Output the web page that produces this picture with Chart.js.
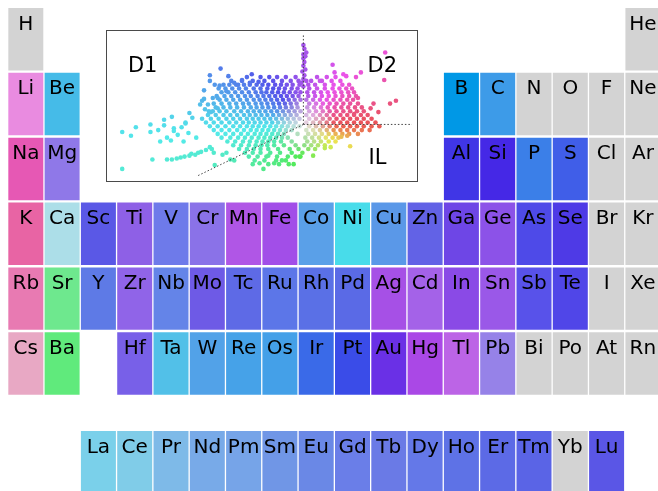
<!DOCTYPE html>
<html>
<head>
<meta charset="utf-8">
<script src="https://cdn.jsdelivr.net/npm/chart.js@4.4.0/dist/chart.umd.min.js"></script>
<style>
  html, body { margin: 0; padding: 0; background: #fff; overflow: hidden; }
  #wrap { position: relative; width: 658px; height: 491px; }
  #table { position: absolute; left: 0; top: 0; }
  #insetBox { position: absolute; left: 106px; top: 30px; width: 312px; height: 152px;
              box-sizing: border-box; border: 1.5px solid #4a4a4a; background: #fff; }
  #inset { display: block; }
</style>
</head>
<body>
<div id="wrap">
  <canvas id="table" width="658" height="491"></canvas>
  <div id="insetBox"><canvas id="inset" width="309" height="149"></canvas></div>
</div>
<script>
// element symbols, period (8 = separate lanthanide row) and group
const symbols = ['H','He',
  'Li','Be','B','C','N','O','F','Ne',
  'Na','Mg','Al','Si','P','S','Cl','Ar',
  'K','Ca','Sc','Ti','V','Cr','Mn','Fe','Co','Ni','Cu','Zn','Ga','Ge','As','Se','Br','Kr',
  'Rb','Sr','Y','Zr','Nb','Mo','Tc','Ru','Rh','Pd','Ag','Cd','In','Sn','Sb','Te','I','Xe',
  'Cs','Ba','Hf','Ta','W','Re','Os','Ir','Pt','Au','Hg','Tl','Pb','Bi','Po','At','Rn',
  'La','Ce','Pr','Nd','Pm','Sm','Eu','Gd','Tb','Dy','Ho','Er','Tm','Yb','Lu'];
const periods = [1,1,
  2,2,2,2,2,2,2,2,
  3,3,3,3,3,3,3,3,
  4,4,4,4,4,4,4,4,4,4,4,4,4,4,4,4,4,4,
  5,5,5,5,5,5,5,5,5,5,5,5,5,5,5,5,5,5,
  6,6,6,6,6,6,6,6,6,6,6,6,6,6,6,6,6,
  8,8,8,8,8,8,8,8,8,8,8,8,8,8,8];
const groups = [1,18,
  1,2,13,14,15,16,17,18,
  1,2,13,14,15,16,17,18,
  1,2,3,4,5,6,7,8,9,10,11,12,13,14,15,16,17,18,
  1,2,3,4,5,6,7,8,9,10,11,12,13,14,15,16,17,18,
  1,2,4,5,6,7,8,9,10,11,12,13,14,15,16,17,18,
  3,4,5,6,7,8,9,10,11,12,13,14,15,16,17];
const G = '#d3d3d3';
const cellColors = [G,G,
  '#e98be0','#45bbe8','#0098e6','#3d9be8',G,G,G,G,
  '#e658b4','#8f78e8','#4036e6','#4528e6','#3b7fe8','#405ee8',G,G,
  '#e864a4','#acdee8','#5a58e6','#8e60e6','#6e7aea','#8a72e8','#b056e6','#a24ee8','#5aa0e8','#48dcea',
  '#5a98e8','#6262e6','#6e46e6','#8c52e8','#4e4ae8','#4e3ae6',G,G,
  '#e87ab2','#6ee88e','#5e7ae6','#9064e8','#6484e8','#6e5ae6','#5e6ae6','#5c76e8','#5a70e6','#5a6ae6',
  '#a650e6','#a462e8','#8a4ae6','#9a58e8','#5852ea','#5046e8',G,G,
  '#e8a8c4','#60ea7c','#7860e8','#52c0e8','#52a2e8','#46a2e8','#44a0e8','#3a6ae8','#3a4ce8','#6a30e6',
  '#aa48e6','#bc64e6','#9682e8',G,G,G,G,
  '#7ad0ea','#80cce8','#7ebae8','#78aae8','#76a4e8','#7096e6','#6a88e6','#6a7ee8','#6a7ae6','#6478e8',
  '#5e72e6','#5c6ae6','#5a64e6',G,'#5a56e6'];

// inset scatter: dense part read row by row [y, [x...]], origin at the axes crossing
const cloudRows = [
  [50, [-58,-44,-35,-27,-18,-8, 14,24,33]],
  [46, [-74,-63,-52,-40,-31,-22,-13,-5, 8,19,29,38]],
  [42, [-82,-76,-69,-61,-55,-48,-42,-36,-29,-23,-17,-11,-4, 5,12,22,31,40,47]],
  [38, [-87,-80,-73,-66,-59,-51,-44,-37,-31,-25,-19,-12,-6, 6,14,22,30,37,44,50]],
  [34, [-84,-77,-70,-63,-56,-49,-43,-38,-32,-26,-20,-14,-8,-3, 4,11,18,25,32,39,46,52]],
  [30, [-89,-81,-74,-67,-60,-54,-47,-41,-35,-29,-23,-17,-11,-5, 5,12,19,26,33,40,47,54]],
  [26, [-86,-79,-72,-65,-58,-51,-45,-39,-33,-27,-21,-15,-9,-3, 3,10,17,24,31,38,45,51]],
  [22, [-92,-84,-76,-69,-62,-56,-49,-43,-37,-31,-25,-19,-13,-7, 6,13,20,27,34,41,48,56]],
  [18, [-90,-82,-75,-68,-61,-54,-48,-42,-36,-30,-24,-18,-12,-6, 4,11,18,25,32,39,46,53,60]],
  [14, [-93,-86,-79,-71,-64,-57,-51,-45,-39,-33,-27,-21,-15,-9,-3, 6,13,20,27,34,41,48,55,62]],
  [10, [-98,-90,-82,-75,-68,-61,-55,-49,-43,-37,-31,-25,-19,-13,-7, 3,10,17,24,31,38,45,52,59,66]],
  [6, [-95,-87,-79,-72,-65,-58,-52,-46,-40,-34,-28,-22,-16,-10,-4, 6,13,20,27,34,41,48,55,62,70]],
  [2, [-100,-92,-84,-76,-69,-62,-56,-50,-44,-38,-32,-26,-20,-14,-8, 3,10,17,24,31,38,45,52,59,66,74]],
  [-2, [-96,-88,-80,-72,-65,-58,-52,-46,-40,-34,-28,-22,-16,-10,-4, 6,13,20,27,34,41,48,55,62,70,78]],
  [-6, [-92,-84,-76,-68,-61,-54,-48,-42,-36,-30,-24,-18,-12, 3,10,17,24,31,38,45,52,60,68]],
  [-10, [-88,-80,-72,-64,-57,-50,-44,-38,-32,-26,-20, -6, 5,12,19,26,33,40,47,56]],
  [-14, [-84,-75,-67,-60,-53,-46,-40,-34,-28,-22,-16, 2,9,16,23,30,36]],
  [-18, [-78,-70,-62,-55,-48,-42,-36,-30,-23,-12, 4,11,18,26,33]],
  [-22, [-72,-64,-56,-49,-43,-37,-30,-20,-8, 1,8,15,22]],
  [-26, [-66,-58,-51,-44,-36,-26,-14,-5, 5,12]],
  [-30, [-60,-52,-44,-34,-24,-12]],
  [-34, [-56,-47,-38,-27,-16,-8]],
  [-38, [-50,-40,-28,-22]],
  [-42, [-52,-36,-25,-10]]
];
// inset scatter: sparse outlying points [x, y]
const cloudPoints = [
  [0,84],[1,80],[3,76],[0,74],[2,72],[0,70],[1,66],[0,62],[2,58],[-1,56],[1,52],[0,48],[3,46],[-2,44],[0,40],
  [30,63],[32,55],[41,53],[44,51],[54,50],[59,55],[84,76],[83,47],[56,28],[72,22],[95,25],[89,22],
  [77,13],[69,17],[52,11],[48,-23],[45,-12],[39,-13],[28,-24],[22,-25],[10,-33],[-1,-30],[-3,-34],
  [-15,-42],[-18,-38],[-30,-41],[-36,-33],[-41,-47],[-4,-34],[-45,-41],[17,46],
  [-85,59],[-96,52],[-96,46],[-91,42],[-86,41],[-102,36],[-77,51],[-71,44],[-63,47],[-53,53],[-46,45],
  [-55,44],[-67,42],[-79,35],[-88,28],[-93,28],[-104,25],[-106,21],[-102,27],[-98,21],[-97,14],
  [-104,6],[-114,7],[-121,1],[-117,12],[-101,16],[-95,13],[-88,17],
  [-186,-8],[-177,-12],[-172,-3],[-157,0],[-157,-8],[-149,-6],[-143,5],[-135,8],[-143,-1],[-133,-4],
  [-133,-7],[-125,-3],[-129,-11],[-140,-14],[-147,-18],[-136,-17],[-118,-9],[-121,2],[-110,-14],
  [-123,-18],[-155,-37],[-186,-47],
  [-140,-37],[-135,-37],[-130,-36],[-126,-35],[-122,-34],[-117,-33],[-115,-31],[-111,-32],[-108,-30],
  [-105,-29],[-100,-27],[-96,-24],[-94,-26],[-92,-30],[-91,-43],[-83,-32],[-79,-30],[-75,-37],[-71,-38]
];
const insetLabels = [['D1', -165, 55], ['D2', 81, 55], ['IL', 76, -42]];

// ---------- periodic table ----------
const slotOf = p => p === 8 ? 6.523 : p - 1;
const cells = symbols.map((s, i) => ({ x: groups[i] - 1, y: [slotOf(periods[i]), slotOf(periods[i]) + 0.963] }));

const symbolLabels = {
  id: 'symbolLabels',
  afterDatasetsDraw(chart) {
    const ctx = chart.ctx;
    ctx.save();
    ctx.font = '20px "DejaVu Sans"';
    ctx.fillStyle = '#000';
    ctx.textAlign = 'center';
    ctx.textBaseline = 'alphabetic';
    chart.getDatasetMeta(0).data.forEach((bar, i) => {
      const top = Math.min(bar.y, bar.base);
      ctx.fillText(symbols[i], bar.x, top + 21.5);
    });
    ctx.restore();
  }
};

new Chart(document.getElementById('table'), {
  type: 'bar',
  data: {
    datasets: [{
      data: cells,
      backgroundColor: cellColors,
      borderWidth: 0,
      categoryPercentage: 1,
      barPercentage: 0.964
    }]
  },
  options: {
    responsive: false,
    animation: false,
    layout: { padding: 0 },
    plugins: { legend: { display: false }, tooltip: { enabled: false } },
    scales: {
      x: { type: 'linear', display: false, offset: false, min: -0.711, max: 17.416 },
      y: { type: 'linear', display: false, reverse: true, min: -0.1234, max: 7.448 }
    }
  },
  plugins: [symbolLabels]
});

// ---------- inset scatter ----------
const points = [];
cloudRows.forEach(([y, xs]) => xs.forEach(x => points.push({ x, y })));
cloudPoints.forEach(([x, y]) => points.push({ x, y }));

const angAnchors = [-180, -135, -90, -45, -22, 0, 45, 90, 135, 180];
const hueAnchors = [545, 505, 475, 435, 410, 360, 305, 272, 235, 185];
function cloudColor(x, y) {
  const a = Math.atan2(y, x) * 180 / Math.PI;
  let k = 0;
  while (k < angAnchors.length - 2 && a > angAnchors[k + 1]) k++;
  const f = (a - angAnchors[k]) / (angAnchors[k + 1] - angAnchors[k]);
  const h = (hueAnchors[k] + f * (hueAnchors[k + 1] - hueAnchors[k])) % 360;
  const t = Math.min(1, Math.hypot(x, y) / 32);
  return `hsl(${h.toFixed(0)},${(20 + 58 * t).toFixed(0)}%,${(88 - 26 * t).toFixed(0)}%)`;
}

const axisLine = (x, y) => ({
  type: 'line', data: [{ x: 0, y: 0 }, { x, y }],
  borderColor: '#444', borderWidth: 1, borderDash: [1.5, 2], pointRadius: 0, fill: false
});

const cornerLabels = {
  id: 'cornerLabels',
  afterDatasetsDraw(chart) {
    const ctx = chart.ctx;
    ctx.save();
    ctx.font = '21px "DejaVu Sans"';
    ctx.fillStyle = '#000';
    ctx.textAlign = 'center';
    insetLabels.forEach(([txt, x, y]) => {
      ctx.fillText(txt, chart.scales.x.getPixelForValue(x), chart.scales.y.getPixelForValue(y));
    });
    ctx.restore();
  }
};

new Chart(document.getElementById('inset'), {
  type: 'scatter',
  data: {
    datasets: [
      axisLine(0, 95), axisLine(112, 0), axisLine(-110, -55),
      {
        data: points,
        pointRadius: 2.3,
        pointBorderWidth: 0,
        pointBackgroundColor: c => cloudColor(c.raw.x, c.raw.y)
      }
    ]
  },
  options: {
    responsive: false,
    animation: false,
    layout: { padding: 0 },
    plugins: { legend: { display: false }, tooltip: { enabled: false } },
    scales: {
      x: { type: 'linear', display: false, min: -197.5, max: 111.5 },
      y: { type: 'linear', display: false, min: -54.5, max: 94.5 }
    }
  },
  plugins: [cornerLabels]
});
</script>
</body>
</html>
